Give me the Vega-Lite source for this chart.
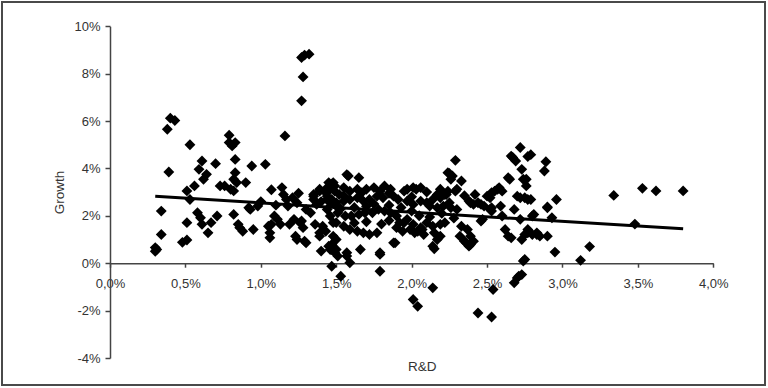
{
  "$schema": "https://vega.github.io/schema/vega-lite/v6.json",
  "autosize": "none",
  "padding": {"left": 2, "top": 2, "right": 3, "bottom": 3},
  "width": 763,
  "height": 383,
  "background": "white",
  "config": {
    "view": {"stroke": "#4a4a4a", "strokeWidth": 2},
    "axis": {
      "grid": false,
      "labelFont": "Liberation Sans",
      "labelFontSize": 13,
      "labelColor": "#333333",
      "titleFont": "Liberation Sans",
      "titleFontSize": 13.5,
      "titleFontWeight": "normal",
      "titleColor": "#333333",
      "domainColor": "#444444",
      "domainWidth": 1.5,
      "tickColor": "#444444",
      "tickWidth": 1.5
    }
  },
  "datasets": {
    "pts": [
      {"x":0.30,"y":0.66},{"x":0.30,"y":0.50},{"x":0.31,"y":0.58},{"x":0.34,"y":1.21},{"x":0.34,"y":2.20},
      {"x":0.38,"y":5.65},{"x":0.40,"y":6.12},{"x":0.43,"y":6.02},{"x":0.39,"y":3.85},
      {"x":0.48,"y":0.88},{"x":0.51,"y":0.98},{"x":0.51,"y":1.71},{"x":0.51,"y":3.05},{"x":0.53,"y":2.69},{"x":0.53,"y":5.00},
      {"x":0.56,"y":3.26},{"x":0.58,"y":2.13},{"x":0.60,"y":1.92},{"x":0.61,"y":1.64},{"x":0.59,"y":3.96},{"x":0.61,"y":4.31},
      {"x":0.62,"y":3.54},{"x":0.64,"y":3.75},{"x":0.65,"y":1.28},{"x":0.67,"y":1.71},{"x":0.71,"y":1.99},{"x":0.70,"y":4.20},
      {"x":0.73,"y":3.26},{"x":0.76,"y":3.26},{"x":0.80,"y":3.12},{"x":0.79,"y":5.40},{"x":0.79,"y":5.09},{"x":0.83,"y":5.09},
      {"x":0.81,"y":4.95},{"x":0.83,"y":4.38},{"x":0.83,"y":3.82},{"x":0.82,"y":3.54},{"x":0.84,"y":3.40},{"x":0.82,"y":3.05},
      {"x":0.82,"y":2.06},{"x":0.85,"y":1.64},{"x":0.86,"y":1.50},{"x":0.88,"y":1.35},{"x":0.90,"y":3.40},{"x":0.94,"y":4.10},
      {"x":0.92,"y":2.34},{"x":0.93,"y":2.27},{"x":0.95,"y":1.42},{"x":0.98,"y":2.41},{"x":1.03,"y":4.17},{"x":1.05,"y":1.56},
      {"x":1.07,"y":1.64},{"x":1.06,"y":1.28},{"x":1.06,"y":1.07},{"x":1.07,"y":3.10},{"x":1.09,"y":1.99},{"x":1.11,"y":1.85},
      {"x":1.13,"y":1.64},{"x":1.14,"y":3.19},{"x":1.16,"y":5.37},{"x":1.17,"y":2.69},{"x":1.18,"y":2.41},{"x":1.15,"y":2.90},
      {"x":1.19,"y":1.64},{"x":1.22,"y":1.85},{"x":1.23,"y":1.14},{"x":1.24,"y":1.00},{"x":1.21,"y":2.76},{"x":1.24,"y":2.55},
      {"x":1.26,"y":1.71},{"x":1.28,"y":1.50},{"x":1.27,"y":1.78},{"x":1.29,"y":0.93},{"x":1.30,"y":0.86},{"x":1.30,"y":2.27},
      {"x":1.33,"y":2.13},{"x":1.27,"y":8.68},{"x":1.29,"y":8.78},{"x":1.32,"y":8.82},{"x":1.28,"y":7.86},{"x":1.27,"y":6.85},
      {"x":1.35,"y":2.69},{"x":1.37,"y":2.48},{"x":1.35,"y":2.90},{"x":1.35,"y":2.83},{"x":1.39,"y":3.04},{"x":1.36,"y":1.64},
      {"x":1.39,"y":1.28},{"x":1.39,"y":1.14},{"x":1.40,"y":0.51},{"x":1.41,"y":1.56},{"x":1.43,"y":1.35},{"x":1.45,"y":3.40},
      {"x":1.47,"y":3.33},{"x":1.48,"y":3.40},{"x":1.46,"y":0.58},{"x":1.47,"y":-0.13},{"x":1.43,"y":3.12},{"x":1.44,"y":2.83},
      {"x":1.46,"y":2.55},{"x":1.44,"y":2.27},{"x":1.46,"y":1.99},{"x":1.48,"y":1.71},{"x":1.45,"y":0.72},{"x":1.47,"y":0.58},
      {"x":1.48,"y":1.14},{"x":1.50,"y":1.00},{"x":1.49,"y":0.45},{"x":1.39,"y":3.12},{"x":1.43,"y":2.98},{"x":1.46,"y":3.12},
      {"x":1.49,"y":3.26},{"x":1.52,"y":2.90},{"x":1.44,"y":2.69},{"x":1.50,"y":2.55},
      {"x":1.53,"y":-0.55},{"x":1.57,"y":0.30},{"x":1.59,"y":0.02},{"x":1.66,"y":0.58},{"x":1.79,"y":0.37},{"x":1.79,"y":-0.34},
      {"x":1.88,"y":0.86},{"x":2.15,"y":0.61},{"x":2.35,"y":0.93},{"x":2.38,"y":0.72},{"x":2.39,"y":0.79},
      {"x":1.49,"y":3.04},{"x":1.47,"y":2.69},{"x":1.58,"y":3.68},{"x":1.65,"y":3.61},{"x":1.57,"y":3.74},{"x":1.55,"y":3.19},
      {"x":1.59,"y":3.04},{"x":1.64,"y":3.12},{"x":1.67,"y":2.98},{"x":1.70,"y":3.12},{"x":1.75,"y":3.19},{"x":1.79,"y":3.04},
      {"x":1.82,"y":3.26},{"x":1.86,"y":3.12},{"x":1.50,"y":2.41},{"x":1.55,"y":2.62},{"x":1.59,"y":2.69},{"x":1.64,"y":2.76},
      {"x":1.68,"y":2.62},{"x":1.72,"y":2.69},{"x":1.77,"y":2.83},{"x":1.81,"y":2.76},{"x":1.88,"y":2.83},{"x":1.91,"y":2.69},
      {"x":1.95,"y":3.04},{"x":1.97,"y":3.12},{"x":2.01,"y":3.19},{"x":2.03,"y":3.12},{"x":2.06,"y":3.19},{"x":1.97,"y":2.62},
      {"x":2.01,"y":2.48},{"x":2.06,"y":2.62},{"x":2.10,"y":2.55},{"x":2.14,"y":2.69},{"x":2.19,"y":2.76},{"x":2.22,"y":2.90},
      {"x":2.24,"y":3.04},{"x":2.24,"y":3.82},{"x":2.29,"y":4.34},{"x":2.25,"y":3.79},{"x":2.27,"y":3.68},{"x":2.26,"y":3.54},
      {"x":2.30,"y":3.12},{"x":2.33,"y":3.47},{"x":2.29,"y":3.04},{"x":2.19,"y":3.12},{"x":2.23,"y":2.90},{"x":2.57,"y":3.12},
      {"x":2.53,"y":2.98},{"x":2.12,"y":2.41},{"x":2.17,"y":2.34},{"x":2.21,"y":2.41},{"x":2.26,"y":2.34},{"x":2.30,"y":2.27},
      {"x":1.51,"y":2.13},{"x":1.56,"y":1.99},{"x":1.60,"y":1.99},{"x":1.65,"y":2.06},{"x":1.69,"y":2.13},{"x":1.74,"y":2.13},
      {"x":1.78,"y":2.27},{"x":1.82,"y":2.20},{"x":1.86,"y":2.13},{"x":1.90,"y":1.99},{"x":1.92,"y":1.71},{"x":1.97,"y":1.85},
      {"x":2.01,"y":1.64},{"x":2.06,"y":1.50},{"x":2.10,"y":1.71},{"x":2.14,"y":1.56},{"x":2.19,"y":1.64},{"x":2.22,"y":1.71},
      {"x":1.50,"y":1.71},{"x":1.55,"y":1.56},{"x":1.59,"y":1.42},{"x":1.64,"y":1.35},{"x":1.68,"y":1.28},{"x":1.72,"y":1.21},
      {"x":1.77,"y":1.28},{"x":1.90,"y":1.50},{"x":1.94,"y":1.35},{"x":1.99,"y":1.42},{"x":2.02,"y":1.28},{"x":2.07,"y":1.42},
      {"x":1.89,"y":0.86},{"x":2.14,"y":0.72},{"x":2.17,"y":1.00},{"x":1.47,"y":0.79},{"x":1.50,"y":0.58},{"x":1.51,"y":0.30},
      {"x":1.57,"y":0.44},{"x":1.79,"y":0.44},{"x":1.95,"y":1.71},{"x":2.04,"y":1.35},{"x":2.08,"y":1.21},{"x":2.15,"y":1.28},
      {"x":2.19,"y":1.14},{"x":2.32,"y":1.14},{"x":2.36,"y":0.86},{"x":2.41,"y":0.93},{"x":2.33,"y":1.56},{"x":2.37,"y":1.42},
      {"x":2.39,"y":1.14},{"x":2.38,"y":2.62},{"x":2.41,"y":2.48},{"x":2.44,"y":2.55},{"x":2.48,"y":2.41},{"x":2.50,"y":2.83},
      {"x":2.52,"y":2.76},{"x":2.55,"y":3.04},{"x":2.58,"y":3.19},{"x":2.60,"y":3.04},{"x":2.52,"y":2.27},{"x":2.59,"y":2.41},
      {"x":2.39,"y":2.55},{"x":2.46,"y":2.48},{"x":2.53,"y":2.34},{"x":2.60,"y":1.99},{"x":2.53,"y":2.20},{"x":2.46,"y":1.78},
      {"x":2.62,"y":1.42},{"x":2.64,"y":1.14},{"x":2.66,"y":1.07},{"x":2.47,"y":1.85},{"x":2.64,"y":3.61},{"x":2.66,"y":4.52},
      {"x":2.69,"y":4.31},{"x":2.72,"y":4.88},{"x":2.73,"y":3.96},{"x":2.74,"y":3.54},{"x":2.76,"y":3.26},{"x":2.68,"y":2.27},
      {"x":2.70,"y":2.83},{"x":2.72,"y":1.85},{"x":2.75,"y":1.21},{"x":2.73,"y":1.00},{"x":2.74,"y":0.09},{"x":2.72,"y":2.76},
      {"x":2.77,"y":2.69},{"x":2.77,"y":1.28},{"x":2.83,"y":1.28},{"x":2.90,"y":1.14},{"x":2.90,"y":2.34},{"x":2.80,"y":1.99},
      {"x":2.14,"y":-1.04},{"x":2.01,"y":-1.53},{"x":2.04,"y":-1.82},{"x":2.44,"y":-2.10},{"x":2.54,"y":-1.11},{"x":2.53,"y":-2.27},
      {"x":2.68,"y":-0.83},{"x":2.70,"y":-0.62},{"x":2.71,"y":-0.55},{"x":2.73,"y":-0.48},
      {"x":2.75,"y":0.16},{"x":2.95,"y":0.47},{"x":3.12,"y":0.12},{"x":3.18,"y":0.70},{"x":3.34,"y":2.86},{"x":3.48,"y":1.65},
      {"x":3.53,"y":3.16},{"x":3.62,"y":3.05},{"x":3.80,"y":3.05},{"x":2.96,"y":2.69},{"x":2.90,"y":2.37},{"x":2.93,"y":1.92},
      {"x":2.89,"y":4.28},{"x":2.88,"y":3.89},{"x":2.76,"y":3.54},{"x":2.79,"y":4.58},{"x":2.77,"y":4.50},{"x":2.67,"y":4.46},
      {"x":2.75,"y":2.76},{"x":2.79,"y":2.69},{"x":2.81,"y":2.06},{"x":2.77,"y":1.42},{"x":2.80,"y":1.21},{"x":2.83,"y":1.21},
      {"x":2.85,"y":1.14},{"x":2.65,"y":3.54},
      {"x":1.53,"y":2.30},{"x":1.62,"y":2.35},{"x":1.70,"y":2.40},{"x":1.75,"y":2.50},{"x":1.85,"y":2.45},{"x":1.93,"y":2.35},
      {"x":2.00,"y":2.20},{"x":2.05,"y":2.00},{"x":2.12,"y":1.95},{"x":2.20,"y":2.10},{"x":2.28,"y":1.90},{"x":1.62,"y":1.70},
      {"x":1.70,"y":1.75},{"x":1.80,"y":1.65},{"x":1.85,"y":1.80},{"x":2.25,"y":2.55},{"x":2.35,"y":2.85},{"x":2.42,"y":2.90},
      {"x":1.25,"y":2.95},{"x":1.10,"y":2.45},{"x":1.00,"y":2.60},{"x":1.40,"y":2.60},{"x":1.55,"y":2.85},{"x":1.85,"y":2.95},
      {"x":2.00,"y":2.80},{"x":2.10,"y":3.00},{"x":2.17,"y":2.90}
    ],
    "trend": [
      {"x":0.30,"y":2.82},
      {"x":3.80,"y":1.45}
    ]
  },
  "encoding": {
    "x": {
      "field": "x",
      "type": "quantitative",
      "scale": {"domain": [0, 4], "range": [108, 711.3], "nice": false, "zero": false},
      "axis": {
        "orient": "bottom",
        "offset": -121.8,
        "values": [0, 0.5, 1, 1.5, 2, 2.5, 3, 3.5, 4],
        "labelExpr": "replace(format(datum.value, '.1f'), '.', ',') + '%'",
        "tickSize": 4,
        "labelPadding": 10,
        "labelFlush": false,
        "labelOverlap": false,
        "title": "R&D",
        "titleX": 419.7,
        "titleY": 103.5,
        "titleBaseline": "middle",
        "titleAlign": "center"
      }
    },
    "y": {
      "field": "y",
      "type": "quantitative",
      "scale": {"domain": [-4, 10], "range": [356, 24.2], "nice": false, "zero": false},
      "axis": {
        "orient": "left",
        "offset": -108,
        "values": [-4, -2, 0, 2, 4, 6, 8, 10],
        "labelExpr": "datum.value + '%'",
        "tickSize": 5,
        "labelPadding": 5,
        "labelFlush": false,
        "labelOverlap": false,
        "title": "Growth",
        "titleX": -51,
        "titleY": 190,
        "titleAngle": -90,
        "titleBaseline": "middle",
        "titleAlign": "center"
      }
    }
  },
  "layer": [
    {
      "data": {"name": "pts"},
      "mark": {"type": "point", "shape": "diamond", "filled": true, "color": "black", "opacity": 1, "size": 118, "clip": false}
    },
    {
      "data": {"name": "trend"},
      "mark": {"type": "line", "color": "black", "strokeWidth": 3}
    }
  ]
}
